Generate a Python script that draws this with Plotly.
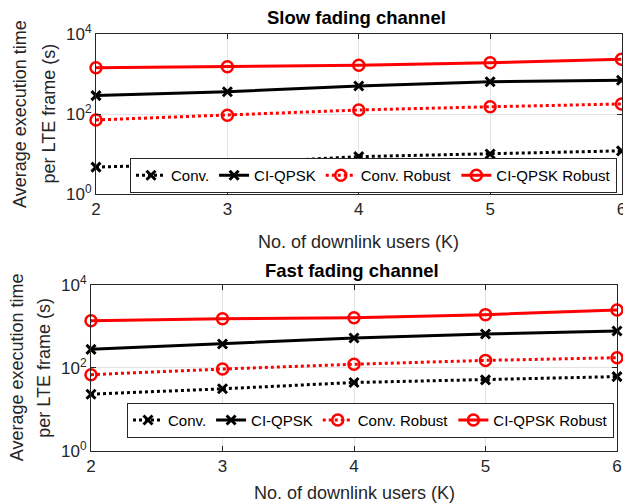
import plotly.graph_objects as go

# ---- data ----
users = [2, 3, 4, 5, 6]
series_names = ["Conv.", "CI-QPSK", "Conv. Robust", "CI-QPSK Robust"]

slow_conv = [4.7, 5.8, 8.6, 10, 12]
slow_ciqpsk = [288, 360, 500, 640, 700]
slow_conv_robust = [71, 93, 126, 152, 178]
slow_ciqpsk_robust = [1440, 1520, 1650, 1910, 2330]

fast_conv = [23, 31, 44, 51, 61]
fast_ciqpsk = [277, 372, 520, 650, 765]
fast_conv_robust = [68, 93, 121, 150, 174]
fast_ciqpsk_robust = [1350, 1510, 1590, 1900, 2460]

x_tick_vals = [2, 3, 4, 5, 6]
y_tick_vals = [1, 100, 10000]
y_tick_text = ["10<sup>0</sup>", "10<sup>2</sup>", "10<sup>4</sup>"]

titles = ["Slow fading channel", "Fast fading channel"]
x_title = "No. of downlink users (K)"
y_title_lines = ["Average execution time", "per LTE frame (s)"]

# ---- styling ----
W, H = 623, 504
FONT = "Liberation Sans, Arial, Helvetica, sans-serif"
AX = "#262626"
GRID = "#e3e3e3"

styles = [
    dict(color="black", dash="dot", symbol="x-thin", size=9, mlw=3),
    dict(color="black", dash="solid", symbol="x-thin", size=9, mlw=3),
    dict(color="#ff0000", dash="dot", symbol="circle-open", size=11, mlw=2.5),
    dict(color="#ff0000", dash="solid", symbol="circle-open", size=11, mlw=2.5),
]

def px_x(p):
    return p / W

def px_y(p):
    return 1 - p / H

fig = go.Figure()

panels = [
    dict(data=[slow_conv, slow_ciqpsk, slow_conv_robust, slow_ciqpsk_robust],
         xa="x", ya="y", legend="legend"),
    dict(data=[fast_conv, fast_ciqpsk, fast_conv_robust, fast_ciqpsk_robust],
         xa="x2", ya="y2", legend="legend2"),
]

for p in panels:
    for name, vals, st in zip(series_names, p["data"], styles):
        fig.add_trace(go.Scatter(
            x=users, y=vals, name=name, mode="lines+markers",
            xaxis=p["xa"], yaxis=p["ya"], legend=p["legend"], cliponaxis=False,
            line=dict(color=st["color"], width=3, dash=st["dash"]),
            marker=dict(symbol=st["symbol"], size=st["size"], color=st["color"],
                        line=dict(color=st["color"], width=st["mlw"])),
        ))

# panel geometry in pixels
geo = [
    dict(l=96, r=621.5, t=34, b=194),
    dict(l=91, r=617, t=284.7, b=450.7),
]

def xaxis_cfg(g, anchor):
    return dict(domain=[px_x(g["l"]), px_x(g["r"])], anchor=anchor, automargin=False,
                range=[2, 6], tickvals=x_tick_vals, showgrid=True, gridcolor=GRID,
                gridwidth=1, showline=True, linecolor=AX, linewidth=1, mirror="ticks",
                ticks="inside", ticklen=5, tickcolor=AX, zeroline=False,
                ticklabeloverflow="allow",
                tickfont=dict(family=FONT, size=17, color=AX))

def yaxis_cfg(g, anchor):
    return dict(domain=[px_y(g["b"]), px_y(g["t"])], anchor=anchor, automargin=False,
                type="log", range=[0, 4], tickvals=y_tick_vals, ticktext=y_tick_text,
                showgrid=True, gridcolor=GRID, gridwidth=1, showline=True,
                linecolor=AX, linewidth=1, mirror="ticks", ticks="inside",
                ticklen=5, tickcolor=AX, zeroline=False, ticklabeloverflow="allow",
                tickfont=dict(family=FONT, size=17, color=AX))

legend_common = dict(orientation="h", bgcolor="white", bordercolor=AX, borderwidth=1,
                     font=dict(family=FONT, size=15, color="black"),
                     itemwidth=30, xanchor="right", yanchor="bottom",
                     traceorder="normal", tracegroupgap=0, itemclick=False)

fig.update_layout(
    width=W, height=H, margin=dict(l=0, r=0, t=0, b=0),
    paper_bgcolor="white", plot_bgcolor="white",
    xaxis=xaxis_cfg(geo[0], "y"), yaxis=yaxis_cfg(geo[0], "x"),
    xaxis2=xaxis_cfg(geo[1], "y2"), yaxis2=yaxis_cfg(geo[1], "x2"),
    legend=dict(x=px_x(617), y=px_y(193), **legend_common),
    legend2=dict(x=px_x(614), y=px_y(437.7), **legend_common),
    showlegend=True,
)

annotations = []
title_y = [17.5, 270.5]
xtitle_y = [242, 493]
ytitle_x = [(20, 48.5), (16.5, 44)]
for i, g in enumerate(geo):
    cx = (g["l"] + g["r"]) / 2
    cy = (g["t"] + g["b"]) / 2
    annotations.append(dict(text="<b>" + titles[i] + "</b>", x=px_x(cx - 2), y=px_y(title_y[i]),
                            xref="paper", yref="paper", showarrow=False,
                            xanchor="center", yanchor="middle",
                            font=dict(family=FONT, size=18.5, color="black")))
    annotations.append(dict(text=x_title, x=px_x(cx), y=px_y(xtitle_y[i]),
                            xref="paper", yref="paper", showarrow=False,
                            xanchor="center", yanchor="middle",
                            font=dict(family=FONT, size=18, color=AX)))
    for line, xx in zip(y_title_lines, ytitle_x[i]):
        annotations.append(dict(text=line, x=px_x(xx), y=px_y(cy), textangle=-90,
                                xref="paper", yref="paper", showarrow=False,
                                xanchor="center", yanchor="middle",
                                font=dict(family=FONT, size=18, color=AX)))
fig.update_layout(annotations=annotations)

fig.write_html("out.html")
